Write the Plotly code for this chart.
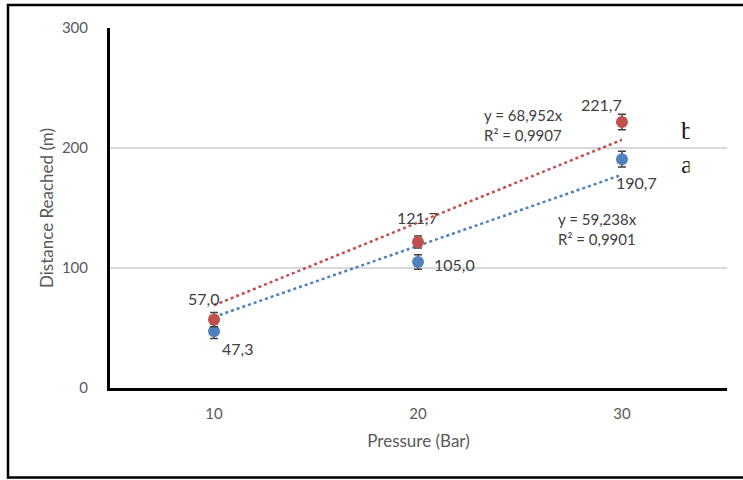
import plotly.graph_objects as go

pressure = [10, 20, 30]
series_b = [57.0, 121.7, 221.7]   # red
series_a = [47.3, 105.0, 190.7]   # blue
err_b = [6.0, 5.0, 6.5]
err_a = [6.0, 6.0, 6.5]
labels_b = ["57,0", "121,7", "221,7"]
labels_a = ["47,3", "105,0", "190,7"]
slope_b = 68.952
slope_a = 59.238
eq_b = ["y = 68,952x", "R² = 0,9907"]
eq_a = ["y = 59,238x", "R² = 0,9901"]
legend_names = ["b", "a"]

RED = "#c0504d"
BLUE = "#4f81bd"
TXT = "#595959"
FONT = "Lato"

W, H = 743, 480
L, R, T, B = 110, 16, 28, 92
PW, PH = W - L - R, H - T - B

def xp(px):
    return (px - L) / PW

def yp(py):
    return (H - B - py) / PH

fig = go.Figure()

# trendlines (Excel index-based: x index 1..3)
idx = [1, 2, 3]
fig.add_trace(go.Scatter(x=pressure, y=[slope_b * i for i in idx], mode="lines",
                         line=dict(color=RED, width=2.5, dash="dot"), showlegend=False, hoverinfo="skip"))
fig.add_trace(go.Scatter(x=pressure, y=[slope_a * i for i in idx], mode="lines",
                         line=dict(color=BLUE, width=2.5, dash="dot"), showlegend=False, hoverinfo="skip"))

fig.add_trace(go.Scatter(x=pressure, y=series_a, mode="markers", name="a",
                         marker=dict(color=BLUE, size=12),
                         error_y=dict(type="data", array=err_a, color="#404040", thickness=1.5, width=4),
                         showlegend=False))
fig.add_trace(go.Scatter(x=pressure, y=series_b, mode="markers", name="b",
                         marker=dict(color=RED, size=12),
                         error_y=dict(type="data", array=err_b, color="#404040", thickness=1.5, width=4),
                         showlegend=False))

# data labels
offs_b = [(-11, -21), (0, -24), (-20, -17)]
offs_a = [(23, 17), (37, 2), (15, 23)]
for x, y, t, (dx, dy) in zip(pressure, series_b, labels_b, offs_b):
    fig.add_annotation(x=x, y=y, text=t, showarrow=False, xshift=dx, yshift=-dy,
                       font=dict(family=FONT, size=16, color="#404040"))
for x, y, t, (dx, dy) in zip(pressure, series_a, labels_a, offs_a):
    fig.add_annotation(x=x, y=y, text=t, showarrow=False, xshift=dx, yshift=-dy,
                       font=dict(family=FONT, size=16, color="#404040"))

# trendline equations
fig.add_annotation(xref="paper", yref="paper", x=xp(482), y=yp(125), text="<br>".join(eq_b),
                   showarrow=False, xanchor="left", yanchor="middle", align="left",
                   font=dict(family=FONT, size=15, color="#404040"))
fig.add_annotation(xref="paper", yref="paper", x=xp(556), y=yp(229), text="<br>".join(eq_a),
                   showarrow=False, xanchor="left", yanchor="middle", align="left",
                   font=dict(family=FONT, size=15, color="#404040"))

# clipped legend letters
for t, py in zip(legend_names, [130, 164]):
    fig.add_annotation(xref="paper", yref="paper", x=xp(679), y=yp(py), text=t,
                       showarrow=False, xanchor="left", yanchor="middle",
                       font=dict(family="Liberation Serif", size=26, color="#1a1a1a"))
    fig.add_annotation(xref="paper", yref="paper", x=xp(689), y=yp(py), text=" ",
                       showarrow=False, xanchor="left", yanchor="middle", width=20, height=28,
                       bgcolor="white", borderpad=0)

# outer border (open at the right)
border = dict(color="black", width=2.5)
fig.add_shape(type="line", xref="paper", yref="paper", x0=xp(7), x1=xp(743), y0=yp(5), y1=yp(5),
              line=border, layer="above")
fig.add_shape(type="line", xref="paper", yref="paper", x0=xp(7), x1=xp(743), y0=yp(477.5), y1=yp(477.5),
              line=border, layer="above")
fig.add_shape(type="line", xref="paper", yref="paper", x0=xp(8), x1=xp(8), y0=yp(4), y1=yp(478.5),
              line=border, layer="above")

fig.update_xaxes(range=[4.9, 35.15], tickvals=pressure, ticktext=[str(p) for p in pressure],
                 showgrid=False, zeroline=False, showline=True, linecolor="black", linewidth=3,
                 ticks="", ticklabelstandoff=10,
                 tickfont=dict(family=FONT, size=15, color=TXT),
                 title=dict(text="Pressure (Bar)", font=dict(family=FONT, size=17, color=TXT), standoff=15))
fig.update_yaxes(range=[0, 300], tickvals=[0, 100, 200, 300],
                 showgrid=True, gridcolor="#d9d9d9", gridwidth=1.5, zeroline=False,
                 showline=True, linecolor="black", linewidth=3, ticks="", ticklabelstandoff=16,
                 tickfont=dict(family=FONT, size=15, color=TXT),
                 title=dict(text="Distance Reached (m)", font=dict(family=FONT, size=17, color=TXT), standoff=4))

fig.update_layout(width=W, height=H, margin=dict(l=L, r=R, t=T, b=B, autoexpand=False),
                  plot_bgcolor="white", paper_bgcolor="white", showlegend=False)

fig.write_html("out.html", config={"displayModeBar": False},
               post_script="document.body.style.margin='0';document.body.style.padding='0';")
